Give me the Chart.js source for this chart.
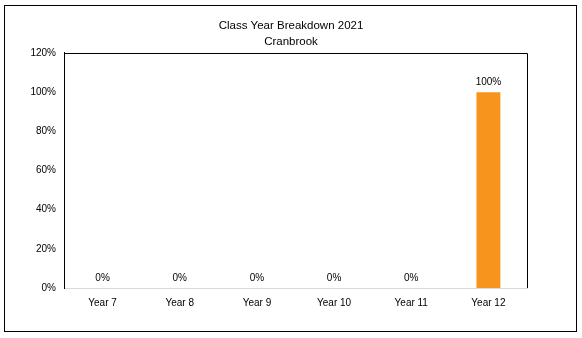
<!DOCTYPE html>
<html>
<head>
<meta charset="utf-8">
<script src="https://cdn.jsdelivr.net/npm/chart.js@4"></script>
<style>
  body { margin: 0; background: #fff; }
</style>
</head>
<body>
<canvas id="yearChart" width="582" height="338"></canvas>
<script>
// Chart data
const years = ['Year 7', 'Year 8', 'Year 9', 'Year 10', 'Year 11', 'Year 12'];
const shares = [0, 0, 0, 0, 0, 100];
const yTicks = [0, 20, 40, 60, 80, 100, 120];
const titleLines = ['Class Year Breakdown 2021', 'Cranbrook'];

const fontName = "'Liberation Sans', Arial, sans-serif";

// Draws the value above each bar, plus the frame around the plot and the chart
const extras = {
    id: 'extras',
    afterDatasetsDraw(chart) {
        const ctx = chart.ctx;
        const meta = chart.getDatasetMeta(0);
        ctx.save();
        ctx.fillStyle = '#000';
        ctx.font = '10px ' + fontName;
        ctx.textAlign = 'center';
        ctx.textBaseline = 'bottom';
        meta.data.forEach((bar, i) => {
            ctx.fillText(shares[i] + '%', bar.x, bar.y - 5);
        });
        ctx.restore();
    },
    afterDraw(chart) {
        const ctx = chart.ctx;
        const area = chart.chartArea;
        ctx.save();
        ctx.strokeStyle = '#000';
        ctx.lineWidth = 1;
        // top and right edges of plot
        ctx.beginPath();
        ctx.moveTo(Math.round(area.left) + 0.5, Math.round(area.top) + 0.5);
        ctx.lineTo(Math.round(area.right) + 0.5, Math.round(area.top) + 0.5);
        ctx.lineTo(Math.round(area.right) + 0.5, Math.round(area.bottom));
        ctx.stroke();
        // outer frame
        ctx.strokeRect(4.5, 5.5, 572, 326);
        ctx.restore();
    }
};

const ctx = document.getElementById('yearChart').getContext('2d');
const chart = new Chart(ctx, {
    type: 'bar',
    data: {
        labels: years,
        datasets: [{
            data: shares,
            backgroundColor: '#F7941E',
            barPercentage: 0.31,
            categoryPercentage: 1
        }]
    },
    options: {
        responsive: false,
        animation: false,
        layout: { padding: 0 },
        plugins: {
            legend: { display: false },
            tooltip: { enabled: false },
            title: {
                display: true,
                text: titleLines,
                color: '#000',
                font: { family: fontName, size: 11.5, weight: 'normal', lineHeight: 1.39 },
                padding: { top: 18, bottom: 3 }
            }
        },
        scales: {
            x: {
                grid: { display: false, drawTicks: false },
                border: { display: true, color: '#d9d9d9', width: 1 },
                ticks: {
                    color: '#000',
                    font: { family: fontName, size: 10 },
                    padding: 9,
                    maxRotation: 0
                },
                afterFit(scale) { scale.height = 50; }
            },
            y: {
                min: 0,
                max: 120,
                grid: { display: false, drawTicks: false },
                border: { display: true, color: '#000', width: 1 },
                afterBuildTicks(scale) {
                    scale.ticks = yTicks.map(v => ({ value: v }));
                },
                ticks: {
                    color: '#000',
                    font: { family: fontName, size: 10 },
                    padding: 8,
                    callback: v => v + '%'
                },
                afterFit(scale) { scale.width = 64; }
            },
            // empty axis on the right, only to keep the space beside the plot
            yRight: {
                position: 'right',
                min: 0,
                max: 120,
                grid: { display: false, drawTicks: false },
                border: { display: false },
                ticks: { display: false },
                afterFit(scale) { scale.width = 55; }
            }
        }
    },
    plugins: [extras]
});
</script>
</body>
</html>
